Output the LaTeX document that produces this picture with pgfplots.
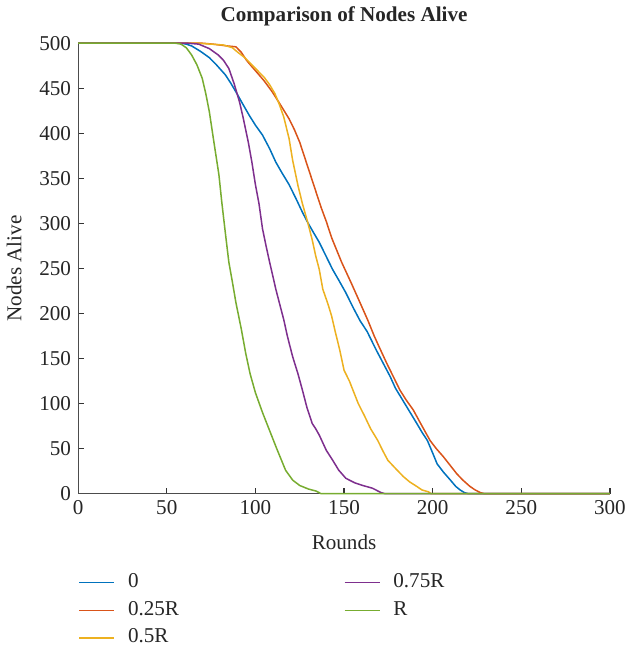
\documentclass[border=0pt]{standalone}
\usepackage{fontspec}
\setmainfont{Liberation Serif}
\usepackage{pgfplots}
\pgfplotsset{compat=1.18}
\definecolor{c0}{RGB}{0,114,189}
\definecolor{c1}{RGB}{217,83,25}
\definecolor{c2}{RGB}{237,177,32}
\definecolor{c3}{RGB}{126,47,142}
\definecolor{c4}{RGB}{119,172,48}
\newcommand{\fs}{\fontsize{10.5}{12}\selectfont}

\begin{document}
\begin{tikzpicture}
\begin{axis}[
    scale only axis,
    width=264.5pt, height=224pt,
    xmin=0, xmax=300, ymin=0, ymax=500,
    xtick={0,50,...,300},
    ytick={0,50,...,500},
    axis lines*=left,
    axis line style={black!70, line width=0.6pt},
    tick align=inside,
    major tick length=2.8pt,
    tick style={black!80, line width=0.6pt},
    clip=false,
    /pgf/number format/assume math mode=true,
    tick label style={font=\rmfamily\fs, text=black!85},
    label style={font=\fs, text=black!85},
    xlabel={Rounds},
    ylabel={Nodes Alive},
    xlabel style={yshift=-3pt},
    ylabel style={yshift=2pt},
    title={\textbf{Comparison of Nodes Alive}},
    title style={font=\fs, text=black!85, at={(0.5,1)}, anchor=south, yshift=-1pt},
    every axis plot/.append style={line width=0.75pt},
    legend image code/.code={\draw[#1] (0pt,0pt) -- (17.5pt,0pt);},
    legend columns=2,
    legend cell align=left,
    legend style={at={(0,-0.17)}, anchor=north west, draw=none, fill=none,
        inner sep=0pt, font=\fs, text=black!85, row sep=1.75pt,
        nodes={inner sep=1pt, text height=7.5pt, text depth=2.5pt},
        /tikz/every odd column/.append style={column sep=5.5pt},
        /tikz/every even column/.append style={column sep=81pt}},
]
\addplot[c0, forget plot] coordinates {(0,500)(58,500)(61,499)(64,497)(69,491)(74,484)(78,476)(83,465)(86,456)(89,446)(93,432)(96.5,420)(100,409)(104,398)(108,383)(111.5,368)(115,356)(119,343)(123,327)(126.6,312)(129.5,301)(133,289)(136,279)(140,263)(143.5,249)(147,237)(151,223)(155,207)(159,192)(163,180)(168,160)(172,145)(176,130)(179,117)(183,104)(187,91)(191,78)(194,68)(197,59)(200,45)(202.5,33)(206,24)(210,15)(213,8)(215.5,4)(218,1)(220,0)(300,0)};
\addplot[c1, forget plot] coordinates {(0,500)(70,500)(76,499)(84,497)(89,496)(92,490)(95,481)(98,474)(102,465)(105,458)(109.5,446)(114,432)(119,416)(122,404)(125,390)(128,372)(132,348)(137,318)(140,302)(143,284)(148.6,257)(154,234)(159,212)(163.5,192)(167,175)(170,162)(174,145)(178,129)(181.5,115)(185,104)(189,93)(194,75)(198.5,59)(202,50)(206,41)(210,31)(213.6,22)(217,15)(221,8)(224,4)(227,1)(229,0)(300,0)};
\addplot[c2, forget plot] coordinates {(0,500)(68,500)(75,499)(82,498)(87,495)(90,490)(94,484)(98,476)(102,468)(105,462)(108,454)(111,444)(113.5,432)(116,418)(119,394)(121,370)(124,342)(126.5,322)(129.5,301)(132,282)(134,264)(136,249)(138,227)(141,210)(143,197)(145,180)(147.5,160)(150,137)(153,125)(155,115)(158,100)(161.6,86)(165,72)(169,59)(172,47)(174.7,37)(179,28)(183.4,19)(187,13)(191,8)(194,4)(197.6,2)(199,0)(300,0)};
\addplot[c3, forget plot] coordinates {(0,500)(56,500)(62,500)(68,499)(74,494)(79,487)(82,481)(85,472)(88,455)(91,435)(93,418)(96,390)(98,368)(100,343)(102,322)(104,294)(106,275)(108,257)(110,240)(111.5,227)(114,208)(116,193)(118,175)(121,152)(124,133)(126.5,115)(129,96)(132,78)(134,72)(136,65)(140,48)(143.6,37)(147,26)(151,17)(156,12)(160.6,9)(166,6)(169,3)(171,1)(173,0)(300,0)};
\addplot[c4, forget plot] coordinates {(0,500)(55,500)(58,499)(61,495)(64,487)(67,476)(70,461)(72,444)(74,424)(76.6,390)(79.4,354)(81,324)(83,290)(85,257)(87,235)(89,212)(92,183)(94.5,156)(97,133)(100,112)(104,90)(108,70)(112,50)(117,26)(121,15)(125,9)(130,5)(134,3)(137,0)(300,0)};
% legend filled row by row so that it reads column-wise: 0, 0.25R, 0.5R | 0.75R, R
\addlegendimage{c0, line width=0.6pt}
\addlegendentry{0}
\addlegendimage{c3, line width=0.6pt}
\addlegendentry{0.75R}
\addlegendimage{c1, line width=0.6pt}
\addlegendentry{0.25R}
\addlegendimage{c4, line width=0.6pt}
\addlegendentry{R}
\addlegendimage{c2, line width=0.6pt}
\addlegendentry{0.5R}
\end{axis}
\end{tikzpicture}
\end{document}
